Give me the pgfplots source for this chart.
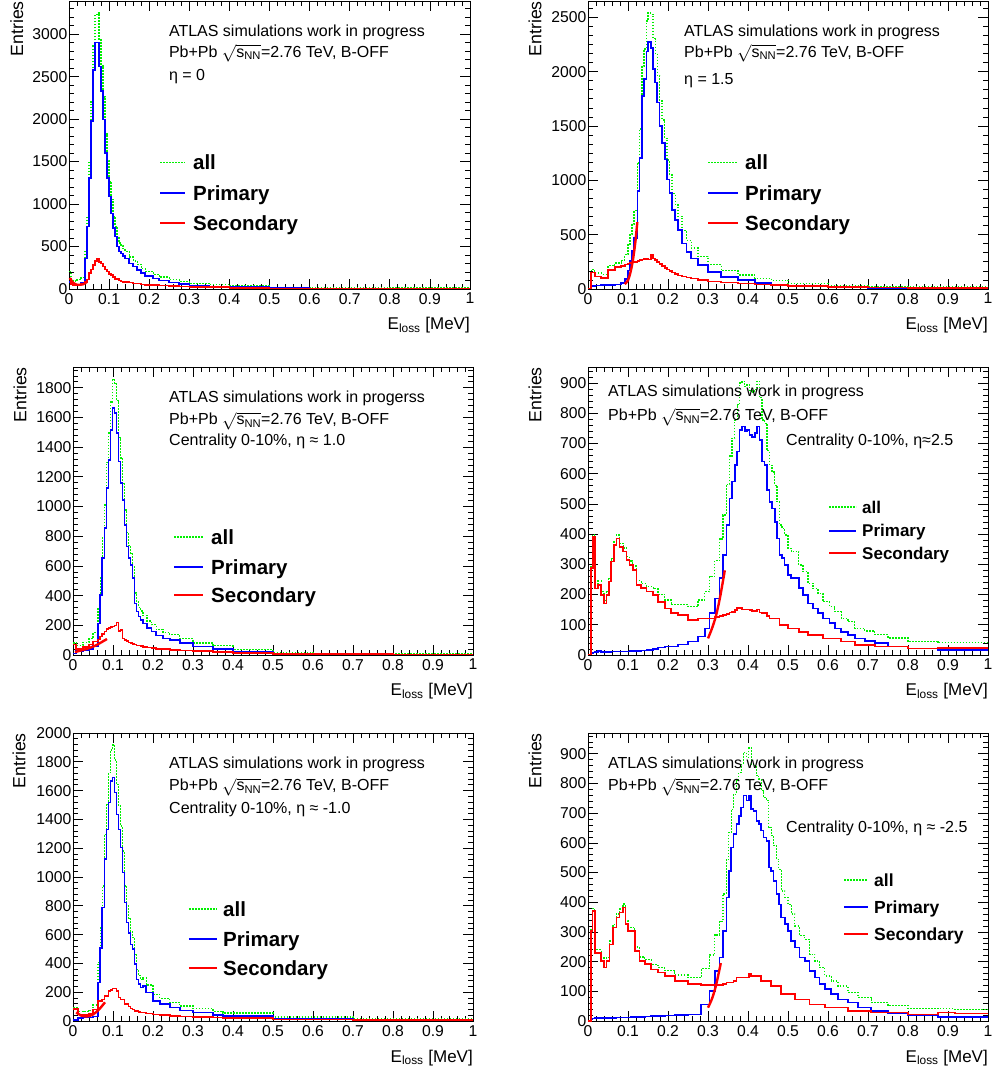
\documentclass[border=0pt]{standalone}
\usepackage{fontspec}
\setmainfont{Liberation Sans}
\usepackage{pgfplots}
\pgfplotsset{compat=1.18}
\usepackage{pgfplotstable}
\definecolor{rblue}{RGB}{0,0,255}
\definecolor{rred}{RGB}{255,0,0}
\definecolor{rgreen}{RGB}{0,240,0}

% panel 1 : eta = 0
\pgfplotstableread{
x prim sec all
0.000 80 125 205
0.005 60 60 120
0.010 50 45 95
0.020 55 55 110
0.030 70 65 135
0.040 360 85 445
0.045 735 110 845
0.050 1305 185 1490
0.055 1975 230 2205
0.060 2580 283 2863
0.065 2900 330 3230
0.070 2900 350 3250
0.075 2620 320 2940
0.080 2330 300 2630
0.085 1995 265 2260
0.090 1600 230 1830
0.095 1305 205 1510
0.100 1090 175 1265
0.105 890 165 1055
0.110 715 140 855
0.115 617 120 737
0.120 500 115 615
0.125 440 100 540
0.130 420 90 510
0.135 390 85 475
0.140 360 85 445
0.150 300 75 375
0.160 265 65 330
0.170 225 65 290
0.180 185 55 240
0.190 155 50 205
0.210 125 45 170
0.225 100 40 140
0.250 75 35 110
0.275 60 28 88
0.300 40 25 65
0.350 30 20 50
0.400 20 15 35
0.500 12 8 20
0.600 8 6 14
0.800 5 5 10
1.000 5 5 10
}\tA

% panel 2 : eta = 1.5
\pgfplotstableread{
x prim sec all
0.000 0 0 0
0.008 30 150 180
0.017 32 115 147
0.033 35 100 135
0.050 38 175 213
0.067 40 200 240
0.083 55 210 265
0.092 90 225 315
0.100 170 235 405
0.105 260 240 500
0.110 350 245 595
0.115 470 250 720
0.1233 900 260 1160
0.129 1207 265 1472
0.135 1778 270 2048
0.140 1932 275 2207
0.146 2185 280 2465
0.150 2271 270 2541
0.157 2216 312 2528
0.1625 2024 280 2304
0.168 1901 265 2166
0.173 1716 250 1966
0.179 1500 230 1730
0.185 1345 210 1555
0.192 1191 195 1386
0.1975 1006 180 1186
0.204 883 165 1048
0.210 728 150 878
0.218 636 140 776
0.225 543 125 668
0.235 420 115 535
0.246 343 105 448
0.258 281 95 376
0.275 219 80 299
0.300 157 68 225
0.333 111 58 169
0.375 80 50 130
0.417 56 42 98
0.458 43 36 79
0.500 25 28 53
0.600 15 18 33
0.700 10 12 22
0.800 8 10 18
1.000 8 10 18
}\tB

% panel 3 : eta ~ 1.0
\pgfplotstableread{
x prim sec all
0.000 10 70 80
0.008 25 40 65
0.025 30 55 85
0.040 40 70 110
0.050 60 90 150
0.0625 213 105 318
0.068 404 124 528
0.073 652 140 792
0.079 854 157 1011
0.084 1124 175 1299
0.089 1315 180 1495
0.094 1517 188 1705
0.099 1663 191 1854
0.104 1629 200 1829
0.109 1494 218 1712
0.114 1303 160 1463
0.119 1157 169 1326
0.124 1045 112 1157
0.129 876 101 977
0.134 730 95 825
0.139 652 85 737
0.144 607 79 686
0.149 517 75 592
0.154 348 70 418
0.159 292 65 357
0.164 258 63 321
0.169 236 60 296
0.175 213 55 268
0.185 180 50 230
0.196 157 48 205
0.208 130 42 172
0.225 112 40 152
0.242 101 35 136
0.267 79 31 110
0.300 56 25 81
0.350 40 22 62
0.400 22 15 37
0.500 11 8 19
0.600 6 5 11
0.800 4 4 8
1.000 4 4 8
}\tC

% panel 4 : eta ~ 2.5
\pgfplotstableread{
x prim sec all
0.000 0 0 0
0.007 5 287 292
0.012 8 390 398
0.017 9 220 229
0.025 13 232 245
0.033 10 199 209
0.040 10 171 181
0.046 10 199 209
0.052 10 243 253
0.058 11 309 320
0.065 11 364 375
0.071 11 386 397
0.079 12 358 370
0.088 12 342 354
0.096 12 314 326
0.104 13 298 311
0.112 13 281 294
0.121 14 232 246
0.133 15 221 236
0.146 17 210 227
0.163 20 199 219
0.175 25 176 201
0.192 28 154 182
0.208 28 138 166
0.225 35 132 167
0.250 44 116 160
0.275 61 121 182
0.292 88 121 209
0.304 138 121 259
0.317 187 125 312
0.329 254 130 384
0.3375 331 132 463
0.346 430 135 565
0.354 518 140 658
0.360 574 143 717
0.367 629 148 777
0.373 673 155 828
0.379 745 155 900
0.385 756 150 906
0.392 739 150 889
0.3975 745 150 895
0.404 728 148 876
0.410 722 146 868
0.417 734 145 879
0.4225 756 150 906
0.429 711 140 851
0.435 640 138 778
0.4417 629 138 767
0.4475 546 130 676
0.454 507 121 628
0.460 485 121 606
0.467 441 121 562
0.4725 386 121 507
0.479 331 99 430
0.485 320 99 419
0.4917 298 99 397
0.500 265 88 353
0.508 254 88 342
0.517 254 88 342
0.527 221 77 298
0.5375 199 77 276
0.550 171 66 237
0.5625 154 66 220
0.575 138 66 204
0.5875 121 55 176
0.604 105 55 160
0.617 88 55 143
0.633 77 44 121
0.650 66 44 110
0.667 55 33 88
0.692 46 33 79
0.717 39 28 67
0.750 28 28 56
0.800 22 22 44
0.875 17 24 41
1.000 17 24 41
}\tD

% panel 5 : eta ~ -1.0
\pgfplotstableread{
x prim sec all
0.000 5 85 90
0.0125 22 45 67
0.025 23 42 65
0.040 25 50 75
0.050 30 81 111
0.0625 266 139 405
0.068 509 139 648
0.073 787 150 937
0.079 1123 174 1297
0.084 1331 174 1505
0.089 1516 208 1724
0.094 1667 215 1882
0.099 1690 227 1917
0.104 1586 227 1813
0.109 1435 208 1643
0.114 1331 162 1493
0.119 1204 150 1354
0.124 1030 150 1180
0.129 822 116 938
0.134 683 116 799
0.139 613 100 713
0.144 532 88 620
0.149 498 80 578
0.154 394 69 463
0.159 289 69 358
0.164 255 62 317
0.169 232 58 290
0.175 243 58 301
0.183 197 52 249
0.200 139 46 185
0.217 116 40 156
0.242 93 35 128
0.267 74 30 104
0.300 58 28 86
0.350 42 25 67
0.375 35 20 55
0.500 18 10 28
0.700 8 8 16
1.000 8 8 16
}\tE

% panel 6 : eta ~ -2.5
\pgfplotstableread{
x prim sec all
0.000 0 0 0
0.007 5 303 308
0.011 8 371 379
0.017 10 230 240
0.033 11 202 213
0.040 11 180 191
0.046 11 202 213
0.054 11 258 269
0.0625 11 315 326
0.071 12 348 360
0.079 12 365 377
0.0875 12 382 394
0.0933 12 326 338
0.100 12 303 315
0.108 13 303 316
0.117 13 236 249
0.129 14 202 216
0.142 15 191 206
0.158 16 174 190
0.175 17 163 180
0.192 18 152 170
0.217 20 135 155
0.250 22 124 146
0.283 56 121 177
0.304 101 121 222
0.317 169 121 290
0.329 214 121 335
0.3375 303 125 428
0.346 416 129 545
0.352 506 129 635
0.358 584 129 713
0.364 629 135 764
0.371 663 146 809
0.377 691 146 837
0.383 719 146 865
0.389 759 146 905
0.396 742 146 888
0.402 759 160 919
0.408 714 152 866
0.414 708 152 860
0.421 674 152 826
0.427 663 152 815
0.433 641 135 776
0.439 618 135 753
0.446 607 135 742
0.452 517 135 652
0.458 506 118 624
0.464 472 118 590
0.471 427 118 545
0.477 393 118 511
0.483 348 90 438
0.492 326 90 416
0.500 303 90 393
0.508 270 90 360
0.517 247 73 320
0.529 214 73 287
0.542 202 73 275
0.554 169 56 225
0.567 146 56 202
0.579 124 56 180
0.592 107 45 152
0.608 90 45 135
0.625 73 45 118
0.650 62 34 96
0.675 45 34 79
0.708 34 28 62
0.750 25 28 53
0.800 20 22 42
0.875 13 28 41
0.917 13 25 38
1.000 13 25 38
}\tF

\pgfplotsset{
  rootaxis/.style={
    width=400pt, height=288pt, scale only axis,
    anchor=south west,
    xmin=0, xmax=1, ymin=0,
    xtick={0,0.1,0.2,0.3,0.4,0.5,0.6,0.7,0.8,0.9,1},
    xticklabels={0,0.1,0.2,0.3,0.4,0.5,0.6,0.7,0.8,0.9,1},
    minor x tick num=4, minor y tick num=4,
    tick pos=both, tick align=inside,
    major tick length=10pt, minor tick length=5pt,
    every tick/.style={black, line width=0.7pt},
    axis line style={line width=0.9pt},
    ticklabel style={font=\fontsize{15.7}{18}\selectfont},
    /pgf/number format/assume math mode=true,
    /pgf/number format/1000 sep={},
    scaled ticks=false,
    yticklabel style={inner xsep=1.5pt},
    xticklabel style={inner ysep=4pt},
    xlabel={E\textsubscript{loss} [MeV]},
    ylabel={Entries},
    xlabel style={at={(axis description cs:1,0)}, anchor=base east, yshift=-41pt,
      inner sep=0pt, font=\fontsize{17}{20}\selectfont},
    ylabel style={anchor=east, inner sep=0pt, font=\fontsize{17.7}{20}\selectfont},
  },
  allst/.style={const plot mark left, no markers, line width=1.3pt, draw=rgreen, dash pattern=on 1.6pt off 1.4pt},
  primst/.style={const plot mark left, no markers, line width=1.6pt, draw=rblue},
  secst/.style={const plot mark left, no markers, line width=1.6pt, draw=rred},
  fitst/.style={smooth, no markers, line width=2.4pt, draw=rred, forget plot},
}
\newcommand{\ann}{\fontsize{16}{19}\selectfont}
\newcommand{\sNN}{\smash{$\sqrt{\mbox{s\textsubscript{NN}}}$}}
\newcommand{\hists}[1]{%
  \addplot[allst] table[x=x,y=all]{#1};
  \addplot[primst] table[x=x,y=prim]{#1};
  \addplot[secst] table[x=x,y=sec]{#1};
}
% manual ROOT-style legend: #1 line start, #2 line end, #3 text x, #4 #5 #6 row centres, #7 font, #8 half cap height
\newcommand{\rootlegend}[8]{%
  \draw[line width=1.3pt, draw=rgreen, dash pattern=on 1.6pt off 1.4pt] (rel axis cs:#1,#4) -- (rel axis cs:#2,#4);
  \node[anchor=base west, inner sep=0pt, font=#7, yshift=-#8] at (rel axis cs:#3,#4) {all};
  \draw[line width=1.6pt, draw=rblue] (rel axis cs:#1,#5) -- (rel axis cs:#2,#5);
  \node[anchor=base west, inner sep=0pt, font=#7, yshift=-#8] at (rel axis cs:#3,#5) {Primary};
  \draw[line width=1.6pt, draw=rred] (rel axis cs:#1,#6) -- (rel axis cs:#2,#6);
  \node[anchor=base west, inner sep=0pt, font=#7, yshift=-#8] at (rel axis cs:#3,#6) {Secondary};
}
\newcommand{\bigfont}{\fontsize{20.5}{24}\selectfont\bfseries}

\begin{document}
\begin{tikzpicture}
\path[use as bounding box] (0pt,0pt) rectangle (991pt,1073pt);

% ---------- panel 1
\begin{axis}[rootaxis, at={(69pt,784pt)}, width=401pt, ymax=3390,
  ytick={0,500,...,3500},
  ylabel style={at={(axis description cs:-0.13,1)}}]
\hists{\tA}
\addplot[fitst] coordinates {(0.002,130) (0.01,75) (0.02,50) (0.035,55) (0.045,85)};
\rootlegend{0.227}{0.289}{0.309}{0.439}{0.334}{0.230}{\bigfont}{7.3pt}
\node[anchor=base west, inner sep=0pt, font=\ann] at (rel axis cs:0.249,0.878) {ATLAS simulations work in progress};
\node[anchor=base west, inner sep=0pt, font=\ann] at (rel axis cs:0.249,0.805) {Pb+Pb \sNN=2.76 TeV, B-OFF};
\node[anchor=base west, inner sep=0pt, font=\ann] at (rel axis cs:0.249,0.725) {η = 0};
\end{axis}

% ---------- panel 2
\begin{axis}[rootaxis, at={(588pt,784pt)}, ymax=2650,
  ytick={0,500,...,3000}, minor y tick num=5,
  ylabel style={at={(axis description cs:-0.1325,1)}}]
\hists{\tB}
\addplot[fitst] coordinates {(0.092,45) (0.100,80) (0.106,150) (0.112,260) (0.118,420) (0.1233,615)};
\rootlegend{0.30}{0.375}{0.3925}{0.439}{0.334}{0.230}{\bigfont}{7.3pt}
\node[anchor=base west, inner sep=0pt, font=\ann] at (rel axis cs:0.24,0.878) {ATLAS simulations work in progress};
\node[anchor=base west, inner sep=0pt, font=\ann] at (rel axis cs:0.24,0.805) {Pb+Pb \sNN=2.76 TeV, B-OFF};
\node[anchor=base west, inner sep=0pt, font=\ann] at (rel axis cs:0.24,0.711) {η = 1.5};
\end{axis}

% ---------- panel 3
\begin{axis}[rootaxis, at={(73pt,418pt)}, ymax=1940,
  ytick={0,200,...,2000},
  ylabel style={at={(axis description cs:-0.1325,1)}}]
\hists{\tC}
\addplot[fitst] coordinates {(0.005,20) (0.03,38) (0.055,62) (0.085,108)};
\rootlegend{0.2525}{0.325}{0.345}{0.410}{0.3056}{0.2083}{\bigfont}{7.3pt}
\node[anchor=base west, inner sep=0pt, font=\ann] at (rel axis cs:0.24,0.875) {ATLAS simulations work in progerss};
\node[anchor=base west, inner sep=0pt, font=\ann] at (rel axis cs:0.24,0.799) {Pb+Pb \sNN=2.76 TeV, B-OFF};
\node[anchor=base west, inner sep=0pt, font=\ann] at (rel axis cs:0.24,0.726) {Centrality 0-10\%, η ≈ 1.0};
\end{axis}

% ---------- panel 4
\begin{axis}[rootaxis, at={(588pt,418pt)}, ymax=953,
  ytick={0,100,...,1000},
  ylabel style={at={(axis description cs:-0.1325,1)}}]
\hists{\tD}
\addplot[fitst] coordinates {(0.300,55) (0.31,88) (0.32,130) (0.33,190) (0.342,280)};
\rootlegend{0.6025}{0.67}{0.685}{0.514}{0.431}{0.354}{\fontsize{17}{20}\selectfont\bfseries}{6.1pt}
\node[anchor=base west, inner sep=0pt, font=\ann] at (rel axis cs:0.05,0.899) {ATLAS simulations work in progress};
\node[anchor=base west, inner sep=0pt, font=\ann] at (rel axis cs:0.05,0.8125) {Pb+Pb \sNN=2.76 TeV, B-OFF};
\node[anchor=base west, inner sep=0pt, font=\ann] at (rel axis cs:0.495,0.726) {Centrality 0-10\%, η≈2.5};
\end{axis}

% ---------- panel 5
\begin{axis}[rootaxis, at={(73pt,52pt)}, ymax=2000,
  ytick={0,200,...,2000},
  ylabel style={at={(axis description cs:-0.135,1)}}]
\hists{\tE}
\addplot[fitst] coordinates {(0.008,60) (0.02,38) (0.035,32) (0.05,45) (0.065,80) (0.08,130)};
\rootlegend{0.29}{0.36}{0.375}{0.389}{0.285}{0.184}{\bigfont}{7.3pt}
\node[anchor=base west, inner sep=0pt, font=\ann] at (rel axis cs:0.24,0.878) {ATLAS simulations work in progress};
\node[anchor=base west, inner sep=0pt, font=\ann] at (rel axis cs:0.24,0.799) {Pb+Pb \sNN=2.76 TeV, B-OFF};
\node[anchor=base west, inner sep=0pt, font=\ann] at (rel axis cs:0.24,0.722) {Centrality 0-10\%, η ≈ -1.0};
\end{axis}

% ---------- panel 6
\begin{axis}[rootaxis, at={(588pt,52pt)}, ymax=970,
  ytick={0,100,...,1000},
  ylabel style={at={(axis description cs:-0.1325,1)}}]
\hists{\tF}
\addplot[fitst] coordinates {(0.300,45) (0.31,75) (0.32,120) (0.332,195)};
\rootlegend{0.64}{0.70}{0.715}{0.490}{0.396}{0.302}{\fontsize{17.5}{20}\selectfont\bfseries}{6.3pt}
\node[anchor=base west, inner sep=0pt, font=\ann] at (rel axis cs:0.05,0.878) {ATLAS simulations work in progress};
\node[anchor=base west, inner sep=0pt, font=\ann] at (rel axis cs:0.05,0.799) {Pb+Pb \sNN=2.76 TeV, B-OFF};
\node[anchor=base west, inner sep=0pt, font=\ann] at (rel axis cs:0.495,0.656) {Centrality 0-10\%, η ≈ -2.5};
\end{axis}
\end{tikzpicture}
\end{document}
